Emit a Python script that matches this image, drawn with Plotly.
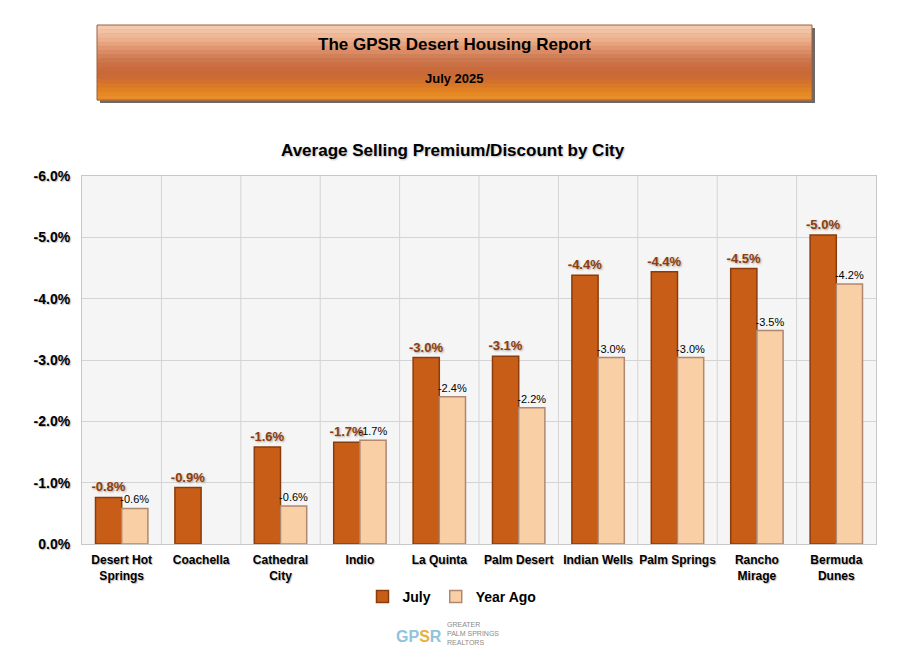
import plotly.graph_objects as go

cities = ["Desert Hot<br>Springs", "Coachella", "Cathedral<br>City", "Indio", "La Quinta",
          "Palm Desert", "Indian Wells", "Palm Springs", "Rancho<br>Mirage", "Bermuda<br>Dunes"]
july = [-0.76, -0.92, -1.58, -1.66, -3.04, -3.06, -4.38, -4.44, -4.49, -5.04]
year_ago = [-0.58, None, -0.62, -1.69, -2.40, -2.22, -3.04, -3.04, -3.48, -4.24]
y_ticks = [0, -1, -2, -3, -4, -5, -6]

FONT = "Arial, Liberation Sans, sans-serif"

# page body adds an 8px margin, so work in window pixels and subtract it
OFF = 8
W, H = 901 - OFF, 657 - OFF
L, R, T, B = 82 - OFF, 876 - OFF, 176 - OFF, 544 - OFF


def px(x):
    return (x - OFF - L) / (R - L)


def py(y):
    return (B - (y - OFF)) / (B - T)


fig = go.Figure()
fig.add_bar(
    x=cities, y=july, name="July",
    marker=dict(color="#c85d18", line=dict(color="#8a3c0c", width=1.5)),
    texttemplate="%{y:.1f}%", textposition="outside", cliponaxis=False, constraintext="none",
    textfont=dict(family=FONT, size=13, color="#8b3d10", weight="bold", shadow="1px 1px 2px #b0a090"),
)
fig.add_bar(
    x=cities, y=year_ago, name="Year Ago",
    marker=dict(color="#f9cfa6", line=dict(color="#b08870", width=1.5)),
    texttemplate="%{y:.1f}%", textposition="outside", cliponaxis=False, constraintext="none",
    textfont=dict(family=FONT, size=11, color="#000000"),
)

# header box with a stepped gradient
shapes = [dict(type="rect", xref="paper", yref="paper", x0=px(100), x1=px(815), y0=py(103), y1=py(28),
               fillcolor="#6a6a6a", line=dict(width=0), layer="below")]
grad = ["#f4caae", "#f2c2a4", "#efb999", "#ebaf8c", "#e6a37e", "#e09771", "#da8b63",
        "#d48057", "#cf774c", "#cb7044", "#c96b3d", "#c96938", "#cc6b33", "#d2712d",
        "#d97827", "#e08024", "#e68823", "#e98d2a"]
top, bot = 25, 100
step = (bot - top) / len(grad)
for i, c in enumerate(grad):
    shapes.append(dict(type="rect", xref="paper", yref="paper", x0=px(97), x1=px(812),
                       y0=py(top + (i + 1) * step + 0.5), y1=py(top + i * step),
                       fillcolor=c, line=dict(width=0), layer="below"))
shapes.append(dict(type="rect", xref="paper", yref="paper", x0=px(97), x1=px(812), y0=py(bot), y1=py(top),
                   fillcolor="rgba(0,0,0,0)", line=dict(color="#9a6040", width=1)))


def note(text, x, y, **kw):
    return dict(text=text, x=px(x), y=py(y), xref="paper", yref="paper", showarrow=False,
                xanchor="center", yanchor="middle", **kw)


annotations = [
    note("<b>The GPSR Desert Housing Report</b>", 454, 44, font=dict(family=FONT, size=17, color="#000")),
    note("July 2025", 454, 78, font=dict(family=FONT, size=13, color="#000", weight=600)),
    note("<b>Average Selling Premium/Discount by City</b>", 453, 150,
         font=dict(family=FONT, size=17, color="#000", shadow="1px 1px 2px #bbb")),
    note("<span style='color:#8fc3e0'>GP</span><span style='color:#e8b040'>S</span>"
         "<span style='color:#8fc3e0'>R</span>", 419, 636, font=dict(family=FONT, size=16, weight="bold")),
    note("GREATER<br>PALM SPRINGS<br>REALTORS", 473, 633, align="left",
         font=dict(family=FONT, size=7, color="#8a8a8a")),
]

fig.update_layout(
    width=W, height=H,
    margin=dict(l=L, r=W - R, t=T, b=H - B),
    paper_bgcolor="white", plot_bgcolor="#f5f5f5",
    barmode="group", bargap=0.34, bargroupgap=0,
    font=dict(family=FONT, color="#000"),
    showlegend=True,
    legend=dict(orientation="h", x=px(452), xanchor="center", y=py(597), yanchor="middle",
                font=dict(family=FONT, size=14, weight="bold"), itemwidth=30,
                tracegroupgap=0),
    shapes=shapes, annotations=annotations,
)
fig.update_xaxes(
    showgrid=False, ticks="", linecolor="#c8c8c8", showline=True, mirror=True, ticklabelstandoff=5,
    tickfont=dict(family=FONT, size=12, weight="bold", shadow="1px 1px 1px #bbb"),
)
for i in range(len(cities) - 1):
    fig.add_vline(x=i + 0.5, line=dict(color="#d4d4d4", width=1), layer="below")
fig.update_yaxes(
    range=[0, -6], tickvals=y_ticks, ticktext=[f"{v:.1f}%" for v in y_ticks],
    gridcolor="#d4d4d4", zeroline=False, showline=True, linecolor="#c8c8c8", mirror=True,
    ticklabelstandoff=8,
    tickfont=dict(family=FONT, size=14, weight="bold", shadow="1px 1px 1px #bbb"),
)

fig.write_html("out.html")
